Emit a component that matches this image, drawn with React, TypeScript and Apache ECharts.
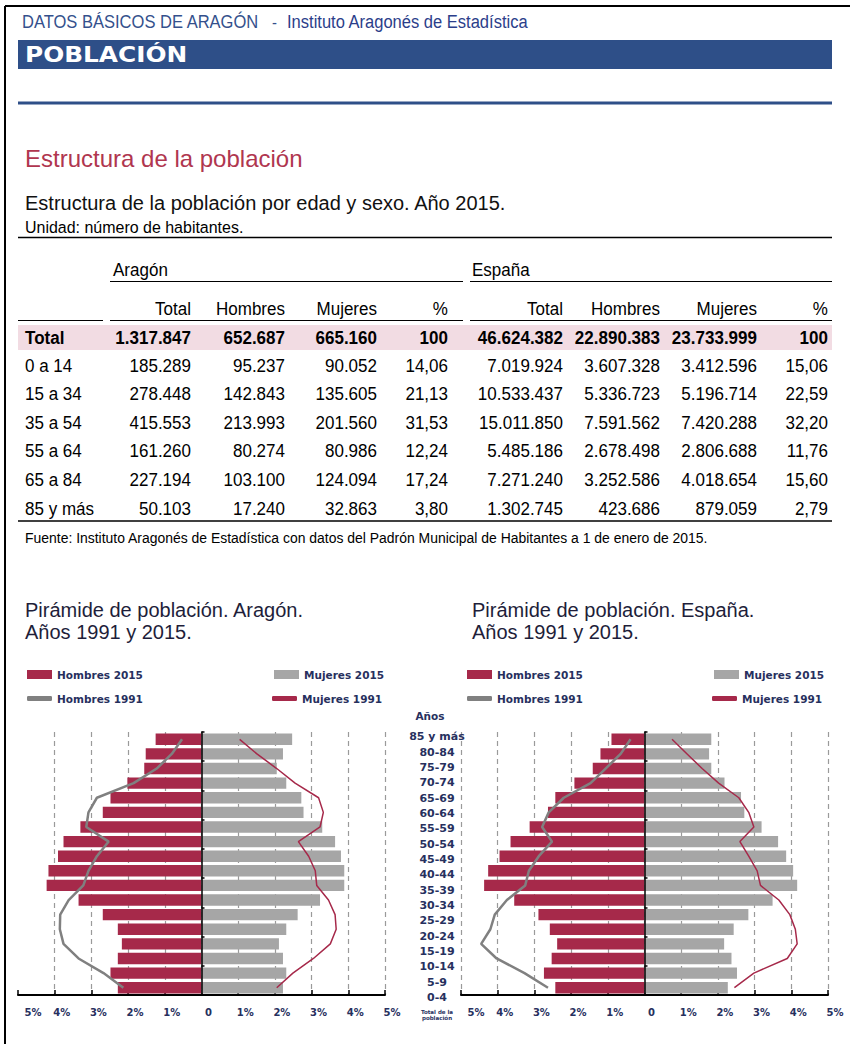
import React, { useEffect, useRef } from 'react';
import * as echarts from 'echarts';

// ---------- DATA ----------
const ageGroups = ['85 y más', '80-84', '75-79', '70-74', '65-69', '60-64', '55-59', '50-54', '45-49', '40-44', '35-39', '30-34', '25-29', '20-24', '15-19', '10-14', '5-9', '0-4'];

const aragonMen2015 = [1.25, 1.52, 1.56, 2.02, 2.48, 2.69, 3.30, 3.76, 3.91, 4.17, 4.22, 3.35, 2.69, 2.28, 2.17, 2.28, 2.48, 2.28];
const aragonWomen2015 = [2.47, 2.22, 2.05, 2.31, 2.72, 2.78, 3.29, 3.64, 3.80, 3.89, 3.89, 3.23, 2.62, 2.31, 2.11, 2.22, 2.31, 2.22];
const aragonMen1991 = [0.53, 0.81, 1.22, 1.85, 2.85, 3.08, 3.14, 2.53, 2.85, 3.08, 3.22, 3.62, 3.85, 3.86, 3.76, 3.35, 2.67, 2.13];
const aragonWomen1991 = [1.04, 1.51, 2.05, 2.55, 3.19, 3.32, 3.23, 2.64, 2.92, 3.10, 3.14, 3.46, 3.64, 3.67, 3.51, 3.05, 2.49, 2.05];

const spainMen2015 = [0.90, 1.20, 1.41, 1.91, 2.43, 2.63, 3.13, 3.65, 3.95, 4.26, 4.37, 3.55, 2.89, 2.58, 2.38, 2.53, 2.74, 2.43];
const spainWomen2015 = [1.82, 1.76, 1.82, 2.18, 2.63, 2.72, 3.19, 3.64, 3.86, 4.05, 4.16, 3.49, 2.83, 2.43, 2.17, 2.37, 2.52, 2.27];
const spainMen1991 = [0.38, 0.65, 1.06, 1.47, 2.20, 2.61, 2.79, 2.52, 2.88, 3.15, 3.25, 3.75, 4.08, 4.20, 4.45, 4.03, 3.27, 2.63];
const spainWomen1991 = [0.75, 1.16, 1.57, 2.02, 2.57, 2.84, 2.98, 2.60, 2.84, 3.07, 3.16, 3.66, 3.96, 4.11, 4.16, 3.89, 2.98, 2.45];

const tableRows = ['Total', '0 a 14', '15 a 34', '35 a 54', '55 a 64', '65 a 84', '85 y más'];
const tableHeaders = ['Total', 'Hombres', 'Mujeres', '%'];
const aragonTotal = [1317847, 185289, 278448, 415553, 161260, 227194, 50103];
const aragonMen = [652687, 95237, 142843, 213993, 80274, 103100, 17240];
const aragonWomen = [665160, 90052, 135605, 201560, 80986, 124094, 32863];
const aragonPct = [100, 14.06, 21.13, 31.53, 12.24, 17.24, 3.80];
const spainTotal = [46624382, 7019924, 10533437, 15011850, 5485186, 7271240, 1302745];
const spainMen = [22890383, 3607328, 5336723, 7591562, 2678498, 3252586, 423686];
const spainWomen = [23733999, 3412596, 5196714, 7420288, 2806688, 4018654, 879059];
const spainPct = [100, 15.06, 22.59, 32.20, 11.76, 15.60, 2.79];

// ---------- STYLE ----------
const ARIAL = "'Liberation Sans', Arial, sans-serif";
const VERD = "'DejaVu Sans', Verdana, sans-serif";
const CRIMSON = '#A6294A';
const GRAYBAR = '#A6A6A6';
const GRAYLINE = '#808080';
const BLUE = '#2E4F88';
const NAVY = '#27305E';

const fmtInt = (n: number) => String(n).replace(/\B(?=(\d{3})+(?!\d))/g, '.');
const fmtPct = (n: number, i: number) => (i === 0 ? String(n) : n.toFixed(2).replace('.', ','));

function buildGraphic() {
  const g: any[] = [];
  const txt = (x: number, y: number, text: string, o: any = {}) =>
    g.push({
      type: 'text', x, y, scaleX: o.sx ?? 1, silent: true, z: 5,
      style: {
        text, fill: o.fill ?? '#000', fontSize: o.size ?? 14, fontFamily: o.family ?? ARIAL,
        fontWeight: o.weight ?? 'normal', align: o.align ?? 'left', verticalAlign: 'middle',
        lineHeight: o.lh,
      },
    });
  const hline = (x1: number, x2: number, y: number, w = 1, c = '#000') =>
    g.push({ type: 'line', silent: true, z: 4, shape: { x1, y1: y, x2, y2: y }, style: { stroke: c, lineWidth: w } });

  // frame
  hline(5, 850, 6, 2);
  g.push({ type: 'line', silent: true, z: 4, shape: { x1: 5, y1: 6, x2: 5, y2: 1044 }, style: { stroke: '#000', lineWidth: 2 } });

  // header
  txt(22, 22, 'DATOS BÁSICOS DE ARAGÓN', { size: 19, sx: 0.87, fill: '#34508C' });
  txt(272, 22, '-', { size: 17, sx: 0.87, fill: '#34508C' });
  txt(287, 22, 'Instituto Aragonés de Estadística', { size: 19, sx: 0.87, fill: '#2B3E8A' });
  g.push({ type: 'rect', silent: true, z: 3, shape: { x: 18, y: 40, width: 814, height: 29 }, style: { fill: BLUE } });
  txt(25, 55, 'POBLACIÓN', { size: 21, sx: 1.18, family: VERD, weight: 'bold', fill: '#fff' });
  g.push({ type: 'rect', silent: true, z: 3, shape: { x: 18, y: 101.5, width: 814, height: 3 }, style: { fill: BLUE } });

  txt(25, 158, 'Estructura de la población', { size: 24, fill: '#B0364F' });
  txt(25, 203, 'Estructura de la población por edad y sexo. Año 2015.', { size: 20, fill: '#111' });
  txt(25, 227, 'Unidad: número de habitantes.', { size: 17, sx: 0.94 });
  hline(18, 832, 237.5, 1.5);

  // table
  const T = { size: 18.5, sx: 0.92 };
  txt(113, 270, 'Aragón', T);
  txt(472, 270, 'España', T);
  hline(110, 463, 281.5, 1.2);
  hline(470, 832, 281.5, 1.2);
  const araX = [191, 285, 377, 448];
  const espX = [563, 660, 757, 828];
  tableHeaders.forEach((h, k) => {
    txt(araX[k], 309, h, { ...T, align: 'right' });
    txt(espX[k], 309, h, { ...T, align: 'right' });
  });
  hline(18, 103, 320.5, 1.2);
  hline(110, 463, 320.5, 1.2);
  hline(470, 832, 320.5, 1.2);
  g.push({ type: 'rect', silent: true, z: 3, shape: { x: 18, y: 325, width: 814, height: 25 }, style: { fill: '#F2DCE3' } });
  const rowY = [338, 366, 394, 423, 451, 480, 509];
  tableRows.forEach((r, i) => {
    const o = { ...T, weight: i === 0 ? 'bold' : 'normal', align: 'right' };
    txt(25, rowY[i], r, { ...o, align: 'left' });
    const ara = [fmtInt(aragonTotal[i]), fmtInt(aragonMen[i]), fmtInt(aragonWomen[i]), fmtPct(aragonPct[i], i)];
    const esp = [fmtInt(spainTotal[i]), fmtInt(spainMen[i]), fmtInt(spainWomen[i]), fmtPct(spainPct[i], i)];
    ara.forEach((v, k) => txt(araX[k], rowY[i], v, o));
    esp.forEach((v, k) => txt(espX[k], rowY[i], v, o));
  });
  hline(18, 832, 521, 1.5);
  txt(25, 538, 'Fuente: Instituto Aragonés de Estadística con datos del Padrón Municipal de Habitantes a 1 de enero de 2015.', { size: 15, sx: 0.93 });

  // pyramid titles
  txt(25, 610, 'Pirámide de población. Aragón.', { size: 20, fill: '#1E1E3A' });
  txt(25, 632, 'Años 1991 y 2015.', { size: 20, fill: '#1E1E3A' });
  txt(472, 610, 'Pirámide de población. España.', { size: 20, fill: '#1E1E3A' });
  txt(472, 632, 'Años 1991 y 2015.', { size: 20, fill: '#1E1E3A' });

  // center column captions
  txt(430, 716, 'Años', { size: 10.5, family: VERD, weight: 'bold', fill: NAVY, align: 'center' });
  txt(437, 1015, 'Total de la\npoblación', { size: 5.5, family: VERD, weight: 'bold', fill: NAVY, align: 'center', lh: 6 });
  return g;
}

const legendBase = {
  orient: 'horizontal', padding: 0, selectedMode: false, itemWidth: 25,
  textStyle: { fontFamily: VERD, fontSize: 10.5, fontWeight: 'bold', color: NAVY },
};

function App() {
  const ref = useRef<HTMLDivElement>(null);
  useEffect(() => {
    document.body.style.margin = '0';
    if (!ref.current) return;
    const chart = echarts.init(ref.current, null, { renderer: 'svg' });

    const grids = [
      { left: 18, width: 367, top: 732, height: 263 },
      { left: 461, width: 367, top: 732, height: 263 },
      { left: 437, width: 1, top: 729, height: 276 },
    ];

    const xAxisFor = (i: number) => ({
      type: 'value', gridIndex: i, min: -5, max: 5, interval: 1,
      axisLine: { show: true, onZero: false, lineStyle: { color: '#000', width: 2 } },
      axisTick: { show: true, inside: true, length: 5, lineStyle: { color: '#000', width: 1.5 } },
      splitLine: { show: true, showMinLine: i !== 0, lineStyle: { color: '#9A9A9A', type: [5, 4], width: 1.2 } },
      axisLabel: {
        margin: 12, fontFamily: VERD, fontSize: 10, fontWeight: 'bold', color: NAVY,
        padding: [0, 0, 0, 14],
        formatter: (v: number) => {
          const s = v === 0 ? '0' : Math.abs(v) + '%';
          return v === -5 ? '{e|' + s + '}' : s;
        },
        rich: { e: { fontFamily: VERD, fontSize: 10, fontWeight: 'bold', color: NAVY, padding: [0, 0, 0, 16] } },
      },
    });
    const yAxisFor = (i: number) => ({
      type: 'category', gridIndex: i, data: ageGroups, inverse: true, z: 10,
      axisLine: { show: true, onZero: true, lineStyle: { color: '#000', width: 1.5 } },
      axisTick: { show: true, inside: true, length: 3, lineStyle: { color: '#000', width: 1.5 } },
      axisLabel: { show: false },
      splitLine: { show: false },
    });

    const pyramid = (i: number, men15: number[], women15: number[], men91: number[], women91: number[]) => [
      {
        name: 'Hombres 2015', type: 'bar', xAxisIndex: i, yAxisIndex: i, data: men15.map((v) => -v),
        itemStyle: { color: CRIMSON }, barGap: '-100%', barCategoryGap: '22%', z: 2,
      },
      {
        name: 'Mujeres 2015', type: 'bar', xAxisIndex: i, yAxisIndex: i, data: women15,
        itemStyle: { color: GRAYBAR }, barGap: '-100%', barCategoryGap: '22%', z: 2,
      },
      {
        name: 'Hombres 1991', type: 'line', xAxisIndex: i, yAxisIndex: i, data: men91.map((v) => -v),
        showSymbol: false, symbol: 'none', itemStyle: { color: GRAYLINE }, lineStyle: { color: GRAYLINE, width: 2.5 }, z: 3,
      },
      {
        name: 'Mujeres 1991', type: 'line', xAxisIndex: i, yAxisIndex: i, data: women91,
        showSymbol: false, symbol: 'none', itemStyle: { color: CRIMSON }, lineStyle: { color: CRIMSON, width: 1.5 }, z: 3,
      },
    ];

    const legends: any[] = [];
    [0, 440].forEach((ox) => {
      legends.push({ ...legendBase, data: ['Hombres 2015'], left: 27 + ox, top: 669, icon: 'rect', itemHeight: 9 });
      legends.push({ ...legendBase, data: ['Mujeres 2015'], left: 274 + ox, top: 669, icon: 'rect', itemHeight: 9 });
      legends.push({ ...legendBase, data: ['Hombres 1991'], left: 27 + ox, top: 693, icon: 'roundRect', itemHeight: 5 });
      legends.push({ ...legendBase, data: ['Mujeres 1991'], left: 272 + ox, top: 693, icon: 'roundRect', itemHeight: 5 });
    });

    chart.setOption({
      animation: false,
      backgroundColor: '#fff',
      grid: grids,
      legend: legends,
      xAxis: [
        xAxisFor(0),
        xAxisFor(1),
        { type: 'category', gridIndex: 2, data: [''], show: false },
      ],
      yAxis: [
        yAxisFor(0),
        yAxisFor(1),
        {
          type: 'category', gridIndex: 2, data: ageGroups, inverse: true,
          axisLine: { show: false }, axisTick: { show: false }, splitLine: { show: false },
          axisLabel: { align: 'center', margin: 0, fontFamily: VERD, fontSize: 11, fontWeight: 'bold', color: NAVY },
        },
      ],
      series: [
        ...pyramid(0, aragonMen2015, aragonWomen2015, aragonMen1991, aragonWomen1991),
        ...pyramid(1, spainMen2015, spainWomen2015, spainMen1991, spainWomen1991),
      ],
      graphic: buildGraphic(),
    });
    return () => chart.dispose();
  }, []);
  return <div ref={ref} style={{ width: 850, height: 1044 }} />;
}

export default App;
